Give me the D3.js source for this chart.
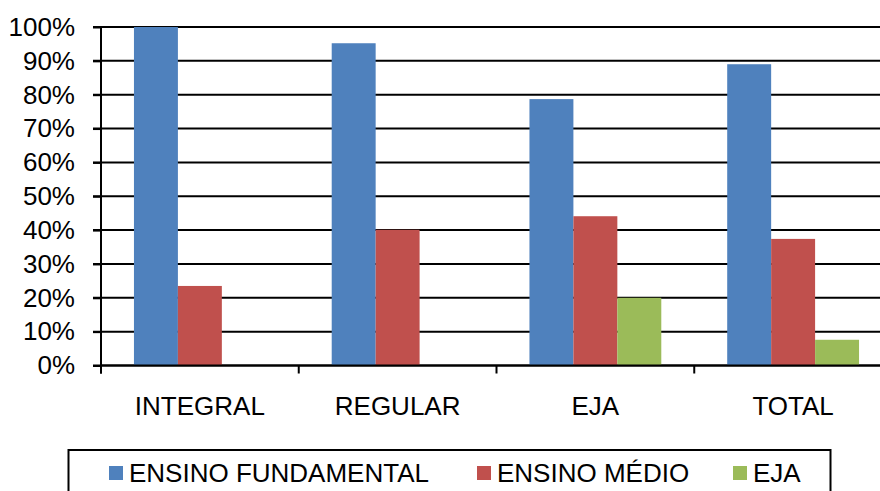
<!DOCTYPE html>
<html>
<head>
<meta charset="utf-8">
<script src="https://cdn.jsdelivr.net/npm/d3@7"></script>
<style>
  body { margin: 0; background: #fff; }
  svg { display: block; font-family: "Liberation Sans", Arial, sans-serif; }
</style>
</head>
<body>
<svg id="chart"></svg>
<script>
// data
const categories = ["INTEGRAL", "REGULAR", "EJA", "TOTAL"];
const seriesNames = ["ENSINO FUNDAMENTAL", "ENSINO MÉDIO", "EJA"];
const fundamental = [1.00, 0.952, 0.787, 0.890];
const medio = [0.235, 0.401, 0.441, 0.374];
const eja = [0, 0, 0.200, 0.076];
const yTicks = [0, 0.1, 0.2, 0.3, 0.4, 0.5, 0.6, 0.7, 0.8, 0.9, 1.0];
const colors = ["#4F81BD", "#C0504D", "#9BBB59"];

const seriesValues = [fundamental, medio, eja];
const rows = categories.map((c, i) => ({
    category: c,
    values: seriesNames.map((s, j) => ({ series: s, value: seriesValues[j][i], idx: j }))
}));

const width = 880, height = 491;
const svg = d3.select("#chart").attr("width", width).attr("height", height);

// plot area runs past the right edge of the picture, like the cropped original
const plotLeft = 101, plotRight = 892, plotTop = 27, plotBottom = 365.5;

const x0 = d3.scaleBand().domain(categories).range([plotLeft, plotRight]).padding(0);
const x1 = d3.scaleBand().domain(seriesNames).range([0, x0.bandwidth()])
    .paddingInner(0).paddingOuter(0.75);
const y = d3.scaleLinear().domain([0, 1]).range([plotBottom, plotTop]);

// gridlines
svg.append("g")
    .selectAll("line")
    .data(yTicks)
    .join("line")
    .attr("x1", plotLeft - 8)
    .attr("x2", width)
    .attr("y1", d => y(d))
    .attr("y2", d => y(d))
    .attr("stroke", "#000")
    .attr("stroke-width", 2);

// bars
svg.append("g")
    .selectAll("g")
    .data(rows)
    .join("g")
    .attr("transform", d => `translate(${x0(d.category)},0)`)
    .selectAll("rect")
    .data(d => d.values.filter(v => v.value > 0))
    .join("rect")
    .attr("x", d => x1(d.series))
    .attr("width", x1.bandwidth())
    .attr("y", d => y(d.value))
    .attr("height", d => y(0) - y(d.value))
    .attr("fill", d => colors[d.idx]);

// y axis
const yAxis = svg.append("g")
    .attr("transform", `translate(${plotLeft},0)`)
    .call(d3.axisLeft(y).tickValues(yTicks).tickFormat(d3.format(".0%")).tickSize(8).tickPadding(18));
yAxis.select(".domain").attr("stroke", "#000").attr("stroke-width", 2)
    .attr("d", `M0,${plotTop}V${plotBottom + 8}`);
yAxis.selectAll(".tick line").attr("stroke", "#000").attr("stroke-width", 2);
yAxis.selectAll(".tick text").attr("fill", "#000").style("font-size", "26px")
    .attr("font-family", "Liberation Sans, Arial, sans-serif");

// x axis with ticks at category boundaries
const xAxis = svg.append("g")
    .attr("transform", `translate(0,${plotBottom})`);
xAxis.append("line")
    .attr("x1", plotLeft).attr("x2", width)
    .attr("stroke", "#000").attr("stroke-width", 2);
xAxis.selectAll("line.tk")
    .data(categories)
    .join("line")
    .attr("class", "tk")
    .attr("x1", d => x0(d)).attr("x2", d => x0(d))
    .attr("y1", 0).attr("y2", 8)
    .attr("stroke", "#000").attr("stroke-width", 2);
xAxis.selectAll("text")
    .data(categories)
    .join("text")
    .attr("x", d => x0(d) + x0.bandwidth() / 2)
    .attr("y", 49.5)
    .attr("text-anchor", "middle")
    .style("font-size", "26px")
    .text(d => d);

// legend
const legend = svg.append("g");
legend.append("rect")
    .attr("x", 68.5).attr("y", 450)
    .attr("width", 762).attr("height", 60)
    .attr("fill", "none").attr("stroke", "#000").attr("stroke-width", 2);
const legendX = [109, 477, 733];
const item = legend.selectAll("g.item")
    .data(seriesNames)
    .join("g")
    .attr("class", "item")
    .attr("transform", (d, i) => `translate(${legendX[i]},466)`);
item.append("rect")
    .attr("width", 14).attr("height", 14)
    .attr("fill", (d, i) => colors[i]);
item.append("text")
    .attr("x", 20).attr("y", 15.5)
    .style("font-size", "26px")
    .text(d => d);
</script>
</body>
</html>
